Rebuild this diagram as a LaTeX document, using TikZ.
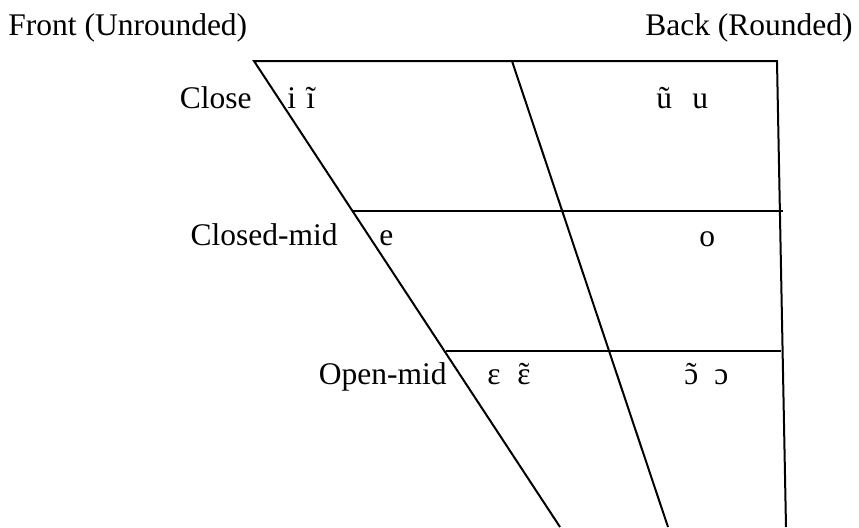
\documentclass[tikz,border=0pt]{standalone}
\usepackage{fontspec}
\setmainfont{Liberation Serif}
\usetikzlibrary{positioning}
% nasal vowel: tilde centred over the letter
\newcommand\nasv[1]{\setbox0\hbox{#1}\rlap{#1}\hbox to \wd0{\hss\char"02DC\hss}}

\begin{document}
\begin{tikzpicture}[x=0.5pt,y=-0.5pt,font=\fontsize{15.75}{18}\selectfont,
 ln/.style={line width=1pt},
 lw/.style={inner sep=0pt,anchor=base west},
 le/.style={inner sep=0pt,anchor=base east}]
\useasboundingbox (0,0) rectangle (859,527);
% chart outline
\coordinate (tl) at (254,61); \coordinate (tm) at (512,61); \coordinate (tr) at (777,61);
\coordinate (bl) at (560,527); \coordinate (bm) at (668,527); \coordinate (br) at (786,527);
\coordinate (cl) at (353,211); \coordinate (cr) at (783,211);
\coordinate (ol) at (446,351); \coordinate (or) at (781,351);
\draw[ln](bl)--(tl)--(tr)--(br);
\draw[ln](tm)--(bm);
\draw[ln](cl)--(cr);\draw[ln](ol)--(or);
% headings and row labels
\node[lw](front) at (8,35){Front (Unrounded)};
\node[le](back) at (853,35){Back (Rounded)};
\node[le](close) at (252,108){Close};
\node[le](cmid) at (338,245){Closed-mid};
\node[le](omid) at (447,384){Open-mid};
% vowels
\node[lw](i) at (287,108){i};
\node[lw](it) at (306,108){ĩ};
\node[lw](ut) at (656,108){ũ};
\node[lw](u) at (692,108){u};
\node[lw](e) at (379,245){e};
\node[lw](o) at (699,246){o};
\node[lw](eps) at (487,384){ɛ};
\node[lw](epst) at (517,384){\nasv{ɛ}};
\node[lw](opt) at (684,384){\nasv{ɔ}};
\node[lw](op) at (714,384){ɔ};
\end{tikzpicture}
\end{document}
